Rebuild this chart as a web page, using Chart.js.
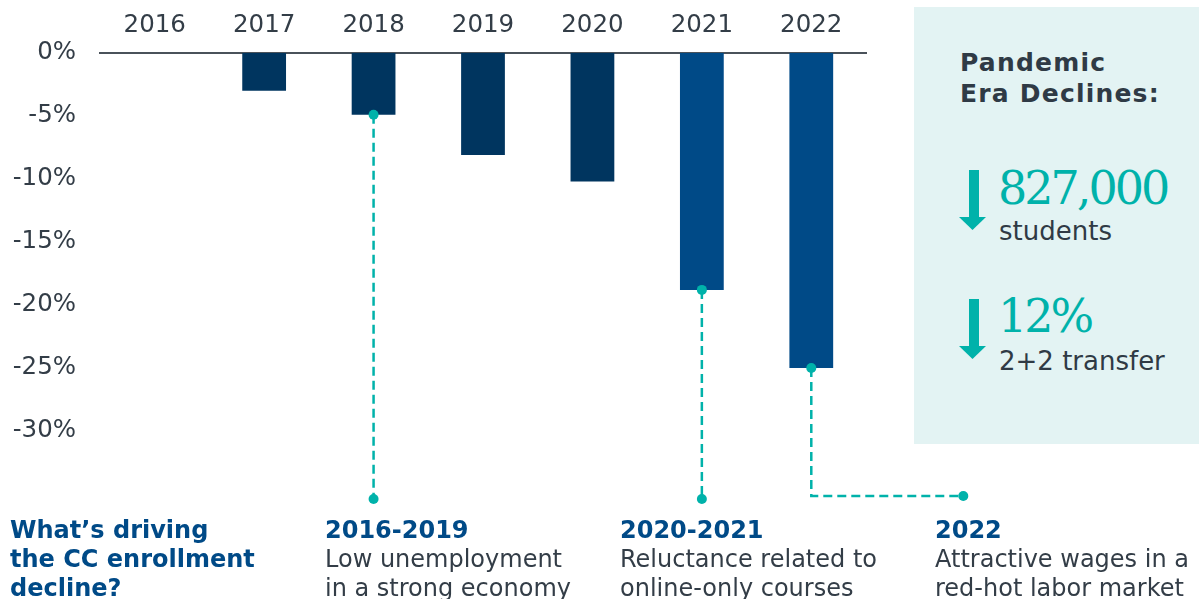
<!DOCTYPE html>
<html>
<head>
<meta charset="utf-8">
<script src="https://cdn.jsdelivr.net/npm/chart.js@4"></script>
<style>
html,body{margin:0;padding:0;background:#fff;}
body{width:1199px;height:599px;position:relative;overflow:hidden;font-family:"DejaVu Sans",Verdana,sans-serif;}
#wrap{position:absolute;left:0;top:0;width:1199px;height:599px;}
.panel{position:absolute;left:914px;top:7px;width:285px;height:437px;background:#e3f3f3;}
.ptitle{position:absolute;left:46px;top:40px;font-weight:bold;font-size:25px;line-height:31px;letter-spacing:1.2px;color:#2f3a45;white-space:nowrap;}
.stat{position:absolute;left:45px;}
.stat svg{position:absolute;left:0;top:0;}
.big{position:absolute;left:39px;font-family:"DejaVu Serif",serif;color:#00b2aa;font-size:46px;line-height:46px;letter-spacing:-3px;white-space:nowrap;}
.small{position:absolute;left:40px;font-size:26px;line-height:26px;color:#2f3a45;white-space:nowrap;}
.note{position:absolute;top:516px;font-size:24px;line-height:29px;color:#333d47;white-space:nowrap;}
.note b{color:#004a87;}
</style>
</head>
<body>
<div id="wrap"><canvas id="chart" width="1199" height="599"></canvas></div>

<div class="panel">
  <div class="ptitle">Pandemic<br>Era Declines:</div>
  <div class="stat" style="top:163px">
    <svg width="28" height="62"><rect x="10" y="0" width="10" height="48" fill="#00b2aa"/><polygon points="0,47 27,47 13.5,60" fill="#00b2aa"/></svg>
    <div class="big" id="stat1" style="top:-5px"></div>
    <div class="small" id="lab1" style="top:48px"></div>
  </div>
  <div class="stat" style="top:292px">
    <svg width="28" height="62"><rect x="10" y="0" width="10" height="48" fill="#00b2aa"/><polygon points="0,47 27,47 13.5,60" fill="#00b2aa"/></svg>
    <div class="big" id="stat2" style="top:-6px"></div>
    <div class="small" id="lab2" style="top:49px"></div>
  </div>
</div>

<div class="note" style="left:10px"><b id="q"></b></div>
<div class="note" style="left:325px" id="n1"></div>
<div class="note" style="left:620px" id="n2"></div>
<div class="note" style="left:935px" id="n3"></div>

<script>
// data
const years = ["2016","2017","2018","2019","2020","2021","2022"]
const declines = [0, -3.0, -4.9, -8.1, -10.2, -18.8, -25.0]
const yTicks = [0, -5, -10, -15, -20, -25, -30]

const statValues = ["827,000", "12%"]
const statLabels = ["students", "2+2 transfer"]

const question = ["What\u2019s driving", "the CC enrollment", "decline?"]
const periods = ["2016-2019", "2020-2021", "2022"]
const reasons = [
  ["Low unemployment", "in a strong economy"],
  ["Reluctance related to", "online-only courses"],
  ["Attractive wages in a", "red-hot labor market"]
]
// which bar each callout starts from
const calloutYears = ["2018", "2021", "2022"]

const TEAL = "#00b2aa"
const DARK = "#00355f"
const BLUE = "#004a87"
const TXT = "#333d47"

// fill the side texts
document.getElementById("stat1").textContent = statValues[0]
document.getElementById("stat2").textContent = statValues[1]
document.getElementById("lab1").textContent = statLabels[0]
document.getElementById("lab2").textContent = statLabels[1]
document.getElementById("q").innerHTML = question.join("<br>")
;["n1","n2","n3"].forEach((id,i)=>{
  document.getElementById(id).innerHTML = `<b>${periods[i]}</b><br>${reasons[i].join("<br>")}`
})

// dashed callout lines with dots
const calloutPlugin = {
  id: "callouts",
  afterDatasetsDraw(chart){
    const ctx = chart.ctx
    const xs = chart.scales.x, ys = chart.scales.y
    const bottom = chart.chartArea.bottom
    ctx.save()
    ctx.strokeStyle = TEAL
    ctx.fillStyle = TEAL
    ctx.lineWidth = 2.5
    ctx.setLineDash([9, 5])
    const dot = (x,y)=>{ctx.beginPath();ctx.arc(x,y,5,0,Math.PI*2);ctx.fill()}
    calloutYears.forEach((yr,i)=>{
      const idx = years.indexOf(yr)
      const x = xs.getPixelForValue(idx)
      const y = ys.getPixelForValue(declines[idx])
      ctx.beginPath()
      ctx.moveTo(x, y)
      if(i == calloutYears.length-1){
        const endX = x + 152
        ctx.lineTo(x, bottom + 2)
        ctx.lineTo(endX, bottom + 2)
        ctx.stroke()
        dot(x, y)
        dot(endX, bottom + 2)
      } else {
        ctx.lineTo(x, bottom + 5)
        ctx.stroke()
        dot(x, y)
        dot(x, bottom + 5)
      }
    })
    ctx.restore()
  }
}

new Chart(document.getElementById("chart"),{
  type:"bar",
  data:{
    labels: years,
    datasets:[{
      data: declines,
      backgroundColor: c => c.dataIndex >= 5 ? BLUE : DARK,
      barPercentage: 0.4,
      categoryPercentage: 1.0
    }]
  },
  options:{
    responsive:false,
    animation:false,
    layout:{padding:{left:0,right:333,top:0,bottom:105}},
    plugins:{legend:{display:false},tooltip:{enabled:false}},
    scales:{
      x:{
        position:"top",
        grid:{display:false,drawTicks:false},
        border:{display:true,color:"#4a525a",width:2},
        ticks:{color:TXT,font:{family:"DejaVu Sans",size:24.5},padding:13,maxRotation:0},
        afterFit: s => { s.height = 53 }
      },
      y:{
        min:-35, max:0,
        grid:{display:false,drawTicks:false},
        border:{display:false},
        afterBuildTicks: s => { s.ticks = yTicks.map(v=>({value:v})) },
        ticks:{color:TXT,font:{family:"DejaVu Sans",size:24.5},padding:24,callback:v=>v+"%"},
        afterFit: s => { s.width = 100 }
      }
    }
  },
  plugins:[calloutPlugin]
})
</script>
</body>
</html>
